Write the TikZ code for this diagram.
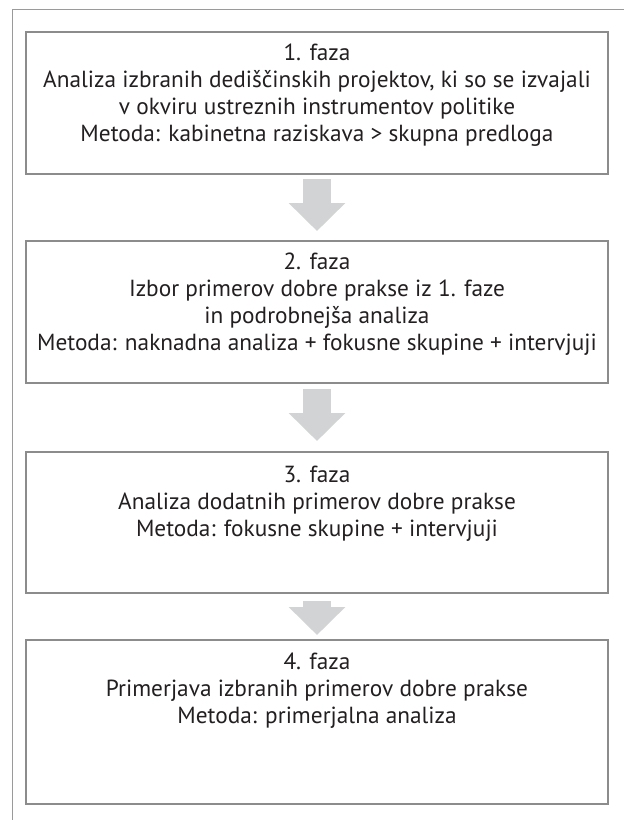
\documentclass[tikz,border=0pt]{standalone}
\usepackage{fontspec}
\setmainfont{PT Sans}
\usetikzlibrary{positioning,arrows.meta}
\definecolor{linegray}{HTML}{8C8C8C}
\definecolor{framegray}{HTML}{9A9A9A}
\definecolor{arrowgray}{HTML}{D1D3D4}
\definecolor{textgray}{HTML}{231F20}

\begin{document}
\begin{tikzpicture}[x=1pt,y=1pt,
box/.style={draw=linegray,line width=1.3pt,minimum width=582pt,outer sep=0pt,anchor=north},
txt/.style={align=center,font=\fontsize{23.3}{27}\selectfont,text=textgray,inner sep=0pt,anchor=north},
flow/.style={draw=arrowgray,line width=28pt,-{Triangle[width=55pt,length=28pt]}}]
\useasboundingbox (0,0) rectangle (624,-820);
\draw[framegray,line width=1pt] (624,-9) -| (12,-820);
\node[box,minimum height=142pt] (B1) at (317,-32) {};
\node[box,minimum height=142pt] (B2) at (317,-241) {};
\node[box,minimum height=141pt] (B3) at (317,-452) {};
\node[box,minimum height=164pt] (B4) at (317,-640) {};
\node[txt,below=12pt of B1.north] (T1) {1. faza\\
Analiza izbranih dediščinskih projektov, ki so se izvajali\\
v okviru ustreznih instrumentov politike\\
Metoda: kabinetna raziskava > skupna predloga};
\node[txt,below=12pt of B2.north] (T2) {2. faza\\
Izbor primerov dobre prakse iz 1. faze\\
in podrobnejša analiza\\
Metoda: naknadna analiza + fokusne skupine + intervjuji};
\node[txt,below=14pt of B3.north] (T3) {3. faza\\
Analiza dodatnih primerov dobre prakse\\
Metoda: fokusne skupine + intervjuji};
\node[txt,below=13pt of B4.north] (T4) {4. faza\\
Primerjava izbranih primerov dobre prakse\\
Metoda: primerjalna analiza};
\foreach \a/\b/\s/\e in {B1/B2/5/10,B2/B3/6/11,B3/B4/8/5}{
\draw[flow] ([yshift=-\s pt]\a.south) -- ([yshift=\e pt]\b.north);
}
\end{tikzpicture}
\end{document}
